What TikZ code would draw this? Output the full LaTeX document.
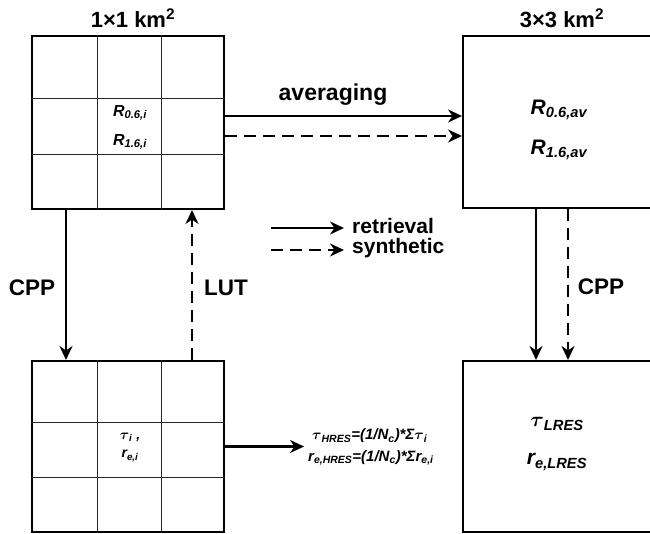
\documentclass[tikz,border=0pt]{standalone}
\usepackage{fontspec}
\setmainfont{Liberation Sans}
\usetikzlibrary{arrows.meta,calc}
\begin{document}
\begin{tikzpicture}[x=1pt,y=-1pt,
  box/.style={draw,line width=2pt,inner sep=0pt,minimum width=#1},
  gridline/.style={line width=0.8pt,draw=black!85},
  conn/.style={line width=2.2pt,-{Stealth[length=14pt,width=13pt,inset=4.5pt]}},
  dsh/.style={conn,dash pattern=on 12pt off 7pt},
  lbl/.style={font=\fontsize{22.5}{24}\selectfont\bfseries,inner sep=0pt},
  var/.style={font=\fontsize{#1}{#1}\selectfont\bfseries\itshape,inner sep=0pt}
]
\useasboundingbox (0,0) rectangle (650,534);
% boxes
\node[box=192pt,minimum height=173pt] (TL) at (128,122.5) {};
\node[box=192pt,minimum height=171pt] (BL) at (128,446.5) {};
\node[box=188pt,minimum height=172pt] (TR) at (557,122) {};
\node[box=188pt,minimum height=171pt] (BR) at (557,446.5) {};
% grids
\foreach \B in {TL,BL}{
  \foreach \f in {0.34,0.67}
    \draw[gridline] ($(\B.north west)!\f!(\B.north east)$) -- ($(\B.south west)!\f!(\B.south east)$);
  \foreach \f in {0.36,0.68}
    \draw[gridline] ($(\B.north west)!\f!(\B.south west)$) -- ($(\B.north east)!\f!(\B.south east)$);
}
% titles
\node[lbl,font=\fontsize{22}{24}\selectfont\bfseries] (t1) at (133,18) {1×1 km\textsuperscript{2}};
\node[lbl,font=\fontsize{22}{24}\selectfont\bfseries] (t2) at (562,18) {3×3 km\textsuperscript{2}};
% texts in boxes
\node[var=16] (r06i) at (130,113) {R\textsubscript{0.6,i}};
\node[var=16] (r16i) at (130,142) {R\textsubscript{1.6,i}};
\node[var=21] (r06a) at (559,110) {R\textsubscript{0.6,av}};
\node[var=21] (r16a) at (559,150) {R\textsubscript{1.6,av}};
\node[var=14] (taui) at (130,437) {{\boldmath$\tau$}\textsubscript{i} ,};
\node[var=14] (rei) at (130,456) {r\textsubscript{e,i}};
\node[var=21] (tauL) at (557,424) {{\boldmath$\tau$}\textsubscript{LRES}};
\node[var=21] (reL) at (557,462) {r\textsubscript{e,LRES}};
\node[var=15,anchor=west] (f1) at (312,436) {{\boldmath$\tau$}\textsubscript{HRES}=(1/N\textsubscript{c})*Σ{\boldmath$\tau$}\textsubscript{i}};
\node[var=15,anchor=west] (f2) at (308,458) {r\textsubscript{e,HRES}=(1/N\textsubscript{c})*Σr\textsubscript{e,i}};
% labels
\node[lbl,font=\fontsize{23}{24}\selectfont\bfseries] (avg) at (333,95) {averaging};
\node[lbl] (cppl) at (32,288) {CPP};
\node[lbl] (lut) at (226,288) {LUT};
\node[lbl] (cppr) at (601,287) {CPP};
% connectors
\draw[conn] ([yshift=6.5pt]TL.east) -- ([yshift=6pt]TR.west);
\draw[dsh] ([yshift=-13.5pt]TL.east) -- ([yshift=-14pt]TR.west);
\draw[conn] ([xshift=-62pt]TL.south) -- ([xshift=-62pt]BL.north);
\draw[dsh] ([xshift=64pt]BL.north) -- ([xshift=64pt]TL.south);
\draw[conn] ([xshift=-21pt]TR.south) -- ([xshift=-21pt]BR.north);
\draw[dsh] ([xshift=11pt]TR.south) -- ([xshift=11pt]BR.north);
\coordinate (fin) at (304,446.5);
\draw[conn] (BL.east) -- (fin);
% legend
\coordinate (ls1) at (271,228);
\coordinate (le1) at (344,228);
\coordinate (ls2) at (271,250);
\coordinate (le2) at (344,250);
\node[lbl,font=\fontsize{21}{24}\selectfont\bfseries,anchor=west] (ret) at (352,226) {retrieval};
\node[lbl,font=\fontsize{21}{24}\selectfont\bfseries,anchor=west] (syn) at (352,248) {synthetic};
\draw[conn] (ls1) -- (le1);
\draw[dsh] (ls2) -- (le2);
\end{tikzpicture}
\end{document}
